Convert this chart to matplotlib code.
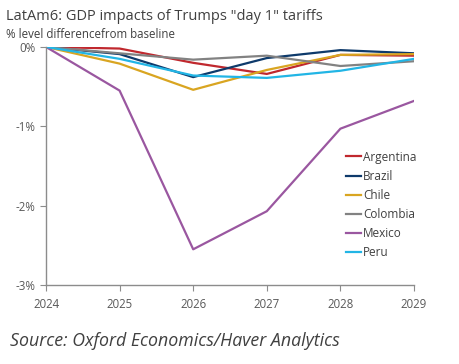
import matplotlib
matplotlib.use("Agg")
import matplotlib.pyplot as plt

years = [2024, 2025, 2026, 2027, 2028, 2029]
argentina = [0, -0.02, -0.20, -0.34, -0.10, -0.11]
brazil = [0, -0.09, -0.38, -0.14, -0.04, -0.08]
chile = [0, -0.21, -0.54, -0.29, -0.10, -0.09]
colombia = [0, -0.08, -0.16, -0.11, -0.24, -0.18]
mexico = [0, -0.55, -2.55, -2.07, -1.03, -0.68]
peru = [0, -0.15, -0.36, -0.39, -0.30, -0.15]

series = [
    ("Argentina", argentina, "#C0282E"),
    ("Brazil", brazil, "#0E3A6B"),
    ("Chile", chile, "#D9A521"),
    ("Colombia", colombia, "#828282"),
    ("Mexico", mexico, "#9A57A0"),
    ("Peru", peru, "#22B5E5"),
]
yticks = [0, -1, -2, -3]
ytick_labels = ["0%", "-1%", "-2%", "-3%"]

plt.rcParams['font.family'] = ['Open Sans', 'DejaVu Sans']
fig = plt.figure(figsize=(4.6, 3.64), dpi=100)
ax = fig.add_axes([0.1, 0.217, 0.8, 0.654])

for name, vals, col in series:
    ax.plot(years, vals, color=col, lw=1.6, label=name)

ax.set_xlim(2024, 2029)
ax.set_ylim(-3, 0)
ax.set_xticks(years)
ax.set_yticks(yticks)
ax.set_yticklabels(ytick_labels)
for s in ["top", "right"]:
    ax.spines[s].set_visible(False)
for s in ["left", "bottom"]:
    ax.spines[s].set_color("#8C8C8C")
    ax.spines[s].set_linewidth(1.0)
ax.tick_params(colors="#8C8C8C", labelcolor="#595959", labelsize=8.3, length=4, direction="out")
ax.tick_params(axis="x", pad=5)

leg = ax.legend(loc="upper left", bbox_to_anchor=(0.815, 0.565), frameon=False,
                borderaxespad=0, borderpad=0,
                fontsize=8.5, handlelength=1.3, handletextpad=0.15, labelspacing=0.52)
for t in leg.get_texts():
    t.set_color("#404040")

fig.text(0.012, 0.955, 'LatAm6: GDP impacts of Trumps "day 1" tariffs', fontsize=10.5,
         color="#404040", va="center")
fig.text(0.012, 0.905, '% level differencefrom baseline', fontsize=8.3,
         color="#404040", va="center")
fig.text(0.022, 0.063, 'Source: Oxford Economics/Haver Analytics', fontsize=12.8,
         color="#404040", style="italic", va="center")

fig.savefig("out.png", dpi=100)
